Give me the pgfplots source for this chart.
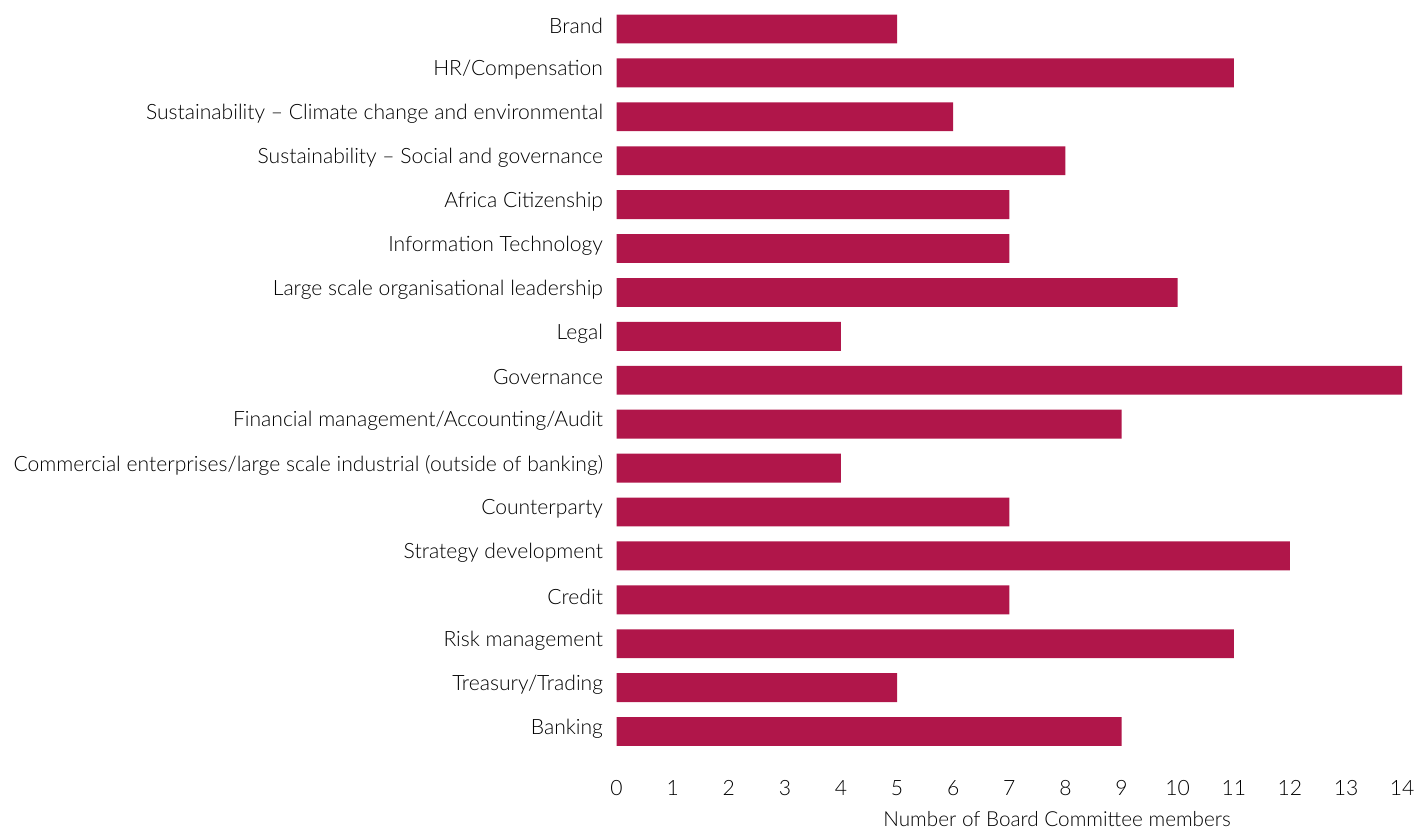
\documentclass[border=0pt]{standalone}
\usepackage{fontspec}
\setmainfont{Lato}[UprightFont=* Light]
\usepackage{pgfplots}
\pgfplotsset{compat=1.18}
\definecolor{barc}{HTML}{B0164A}
\begin{document}
\begin{tikzpicture}
\begin{axis}[
  name=ax,
  scale only axis,
  width=394.5pt, height=385pt,
  xbar, bar width=14.5pt,
  y dir=reverse,
  xmin=0, xmax=14, ymin=-0.66, ymax=16.8,
  xtick={0,...,14},
  ytick={0,...,16},
  yticklabels={Brand,HR/Compensation,Sustainability – Climate change and environmental,Sustainability – Social and governance,Africa Citizenship,Information Technology,Large scale organisational leadership,Legal,Governance,Financial management/Accounting/Audit,Commercial enterprises/large scale industrial (outside of banking),Counterparty,Strategy development,Credit,Risk management,Treasury/Trading,Banking},
  axis line style={draw=none},
  major tick style={draw=none},
  tick label style={font=\fontsize{10.6}{12}\selectfont},
  /pgf/number format/assume math mode=true,
  yticklabel style={xshift=1pt, yshift=1.5pt},
  xticklabel style={yshift=-3.3pt},
  xlabel={Number of Board Committee members},
  xlabel style={font=\fontsize{10.4}{12}\selectfont, xshift=24pt, yshift=-1.2pt},
]
\addplot[fill=barc, draw=none] coordinates {
(5,0) (11,1) (6,2) (8,3) (7,4) (7,5) (10,6) (4,7) (14,8) (9,9) (4,10) (7,11) (12,12) (7,13) (11,14) (5,15) (9,16)
};
\end{axis}
\path ([xshift=-3.5pt]current bounding box.west);
\end{tikzpicture}
\end{document}
